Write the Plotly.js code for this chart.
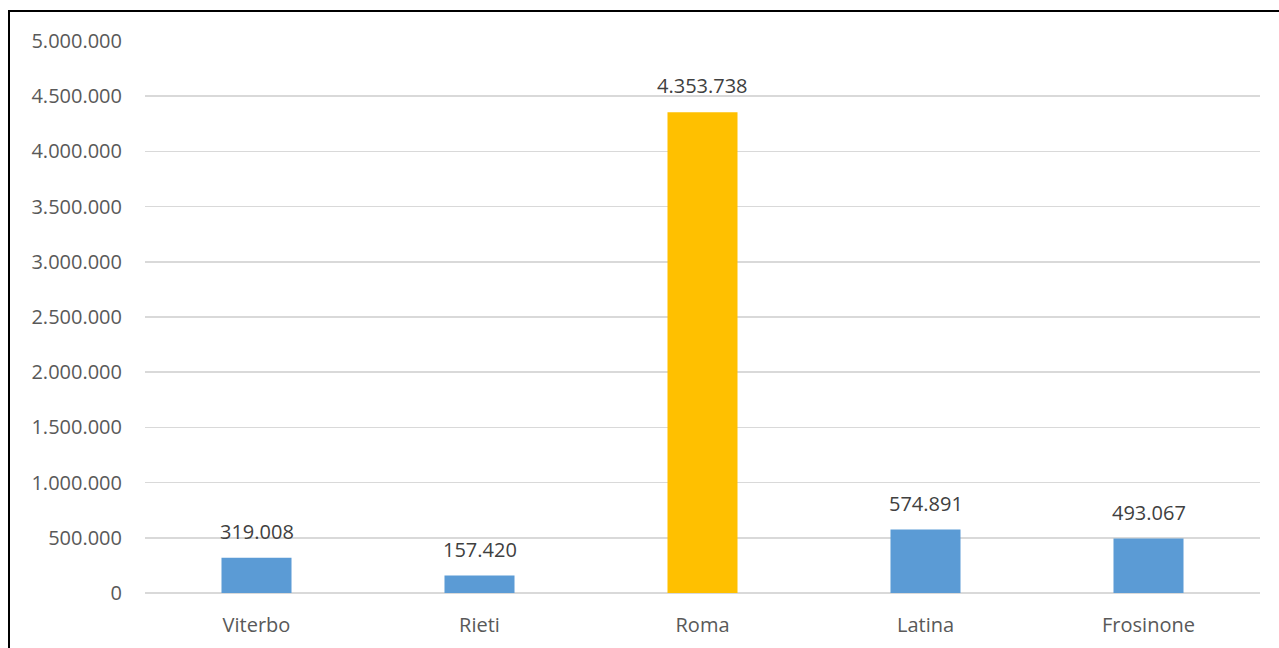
<!DOCTYPE html>
<html>
<head>
<meta charset="utf-8">
<script src="https://cdn.plot.ly/plotly-3.0.1.min.js"></script>
<style>
html,body{margin:0;padding:0;background:#fff;overflow:hidden;}
#chart{width:1279px;height:648px;position:absolute;left:0;top:0;}
#frame{position:absolute;left:8px;top:10px;width:1300px;height:700px;border:2px solid #000;pointer-events:none;}
</style>
</head>
<body>
<div id="chart"></div>
<div id="frame"></div>
<script>
const provinces = ["Viterbo", "Rieti", "Roma", "Latina", "Frosinone"];
const population = [319008, 157420, 4353738, 574891, 493067];
const barColors = ["#5B9BD5", "#5B9BD5", "#FFC000", "#5B9BD5", "#5B9BD5"];

function fmt(v) {
  return String(v).replace(/\B(?=(\d{3})+(?!\d))/g, ".");
}

const trace = {
  type: "bar",
  x: provinces,
  y: population,
  marker: {color: barColors},
  hoverinfo: "x+y"
};

const labels = provinces.map((p, i) => ({
  x: p,
  y: population[i],
  xref: "x",
  yref: "y",
  text: fmt(population[i]),
  showarrow: false,
  yanchor: "bottom",
  yshift: 11,
  font: {family: "Open Sans, sans-serif", size: 20, color: "#404040"}
}));

const layout = {
  width: 1279,
  height: 648,
  margin: {l: 145, r: 19, t: 41, b: 55},
  separators: ",.",
  bargap: 0.686,
  showlegend: false,
  paper_bgcolor: "#ffffff",
  plot_bgcolor: "#ffffff",
  font: {family: "Open Sans, sans-serif", color: "#595959"},
  annotations: labels,
  xaxis: {
    showgrid: false,
    showline: false,
    zeroline: false,
    ticks: "",
    tickfont: {size: 20, color: "#595959"},
    ticklabelstandoff: 18
  },
  yaxis: {
    range: [0, 5000000],
    dtick: 500000,
    tickformat: ",d",
    showgrid: true,
    gridcolor: "#D9D9D9",
    gridwidth: 1.5,
    zeroline: true,
    zerolinecolor: "#D9D9D9",
    zerolinewidth: 1.5,
    showline: false,
    ticks: "",
    ticklabelstandoff: 22,
    tickfont: {size: 20, color: "#595959"}
  }
};

Plotly.newPlot("chart", [trace], layout, {displayModeBar: false, staticPlot: true});
</script>
</body>
</html>
